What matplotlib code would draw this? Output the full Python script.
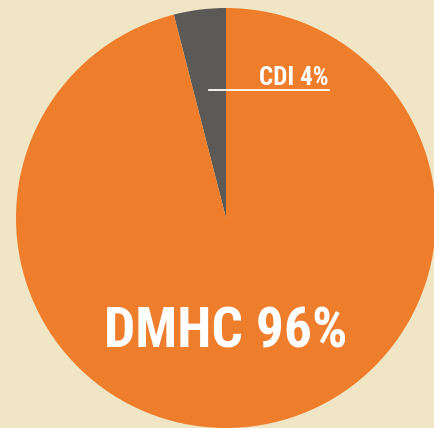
import matplotlib
matplotlib.use("Agg")
import matplotlib.pyplot as plt
from matplotlib import font_manager

labels = ["CDI", "DMHC"]
values = [4, 96]
colors = ["#5b5a57", "#ee7d2c"]
bg = "#f0e6c6"

names = {f.name for f in font_manager.fontManager.ttflist}
fam = [n for n in ["Liberation Sans Narrow", "DejaVu Sans Condensed", "Roboto Condensed"] if n in names] + ["DejaVu Sans"]

fig = plt.figure(figsize=(4.35, 4.28), dpi=100, facecolor=bg)
ax = fig.add_axes([0, 0, 1, 1])
ax.set_facecolor(bg)
ax.pie(values, colors=colors, startangle=90, counterclock=True,
       radius=210, center=(226, 210), frame=True,
       wedgeprops=dict(linewidth=0))
ax.set_xlim(0, 435)
ax.set_ylim(0, 428)
ax.set_aspect("equal")
ax.axis("off")

ax.text(329, 343, f"{labels[0]} {values[0]}%", color="white", fontsize=18,
        ha="right", va="baseline", family=fam, fontweight="bold")
ax.plot([209, 329], [338, 338], color="white", lw=1.3)
ax.text(226, 80, f"{labels[1]} {values[1]}%", color="white", fontsize=40,
        ha="center", va="baseline", family=fam, fontweight="bold")

fig.savefig("out.png", dpi=100, facecolor=bg)
